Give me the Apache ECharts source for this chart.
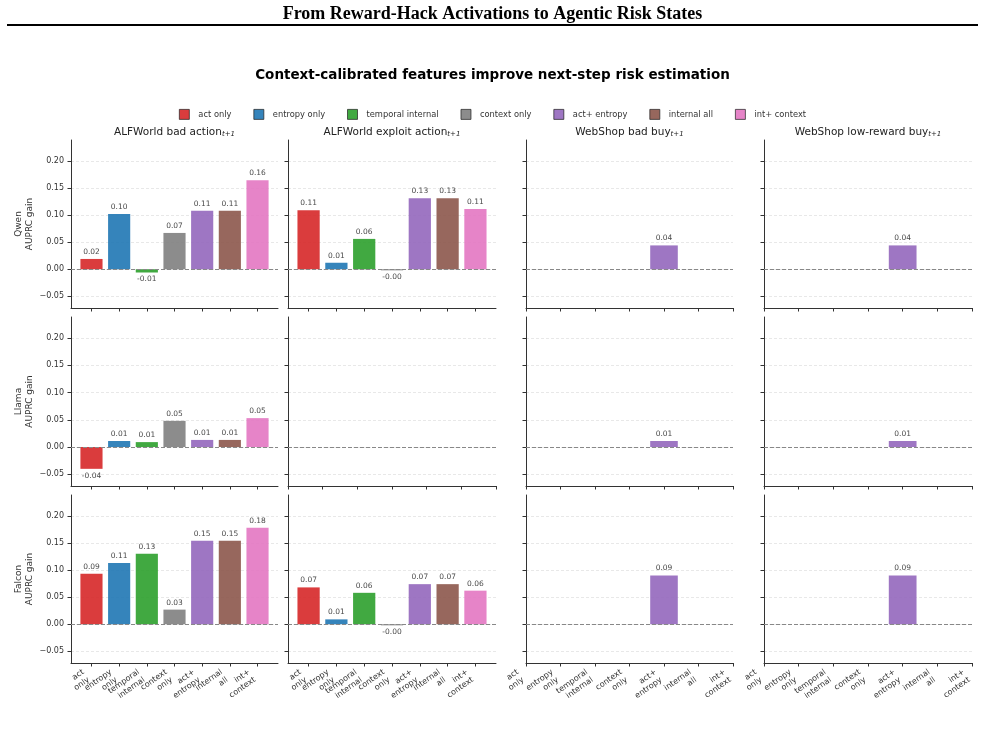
<!DOCTYPE html>
<html><head><meta charset="utf-8">
<script src="https://cdn.jsdelivr.net/npm/echarts@6/dist/echarts.min.js"></script>
<style>html,body{margin:0;padding:0;background:#fff}#c{width:985px;height:730px}</style>
</head><body><div id="c"></div>
<script>
// ---------- data ----------
const categories = ['act only','entropy only','temporal internal','context only','act+ entropy','internal all','int+ context'];
const tickLabels = ['act\nonly','entropy\nonly','temporal\ninternal','context\nonly','act+\nentropy','internal\nall','int+\ncontext'];
const panelTitles = ['ALFWorld bad action','ALFWorld exploit action','WebShop bad buy','WebShop low-reward buy'];
const models = ['Qwen','Llama','Falcon'];
const yTicks = [-0.05, 0, 0.05, 0.10, 0.15, 0.20];
const xTicks = [0, 1, 2, 3, 4, 5, 6];

const qwenBadAction   = [0.019, 0.102, -0.006, 0.067, 0.108, 0.108, 0.164];
const qwenExploit     = [0.109, 0.012, 0.056, -0.002, 0.131, 0.131, 0.111];
const qwenBadBuy      = [null, null, null, null, 0.044, null, null];
const qwenLowReward   = [null, null, null, null, 0.044, null, null];
const llamaBadAction  = [-0.040, 0.011, 0.009, 0.048, 0.013, 0.013, 0.053];
const llamaExploit    = [null, null, null, null, null, null, null];
const llamaBadBuy     = [null, null, null, null, 0.011, null, null];
const llamaLowReward  = [null, null, null, null, 0.011, null, null];
const falconBadAction = [0.093, 0.113, 0.130, 0.027, 0.154, 0.154, 0.178];
const falconExploit   = [0.068, 0.009, 0.058, -0.002, 0.074, 0.074, 0.062];
const falconBadBuy    = [null, null, null, null, 0.090, null, null];
const falconLowReward = [null, null, null, null, 0.090, null, null];

const panelData = [
  [qwenBadAction, qwenExploit, qwenBadBuy, qwenLowReward],
  [llamaBadAction, llamaExploit, llamaBadBuy, llamaLowReward],
  [falconBadAction, falconExploit, falconBadBuy, falconLowReward]
];

// ---------- styles / layout ----------
const colors = ['#d62728','#1f77b4','#2ca02c','#7f7f7f','#9467bd','#8c564b','#e377c2'];
const FONT = 'DejaVu Sans';
const TXT = '#333333';
const colLeft = [71, 288, 526, 764];
const colRight = [278, 496, 733, 972];
const rowTop = [140, 317, 495];
const rowBottom = [308, 486, 663];
const yMin = -0.0715, yMax = 0.2385;

const xLabelStyle = {rotate:35, align:'right', verticalAlign:'bottom', margin:20,
  fontFamily:FONT, fontSize:8, lineHeight:9.5, color:TXT};

const grids = [], xAxes = [], yAxes = [], series = [];
const graphics = [
  {type:'text', x:492.5, y:14, style:{text:'From Reward-Hack Activations to Agentic Risk States', font:'bold 18px "Liberation Serif"', fill:'#000', align:'center', verticalAlign:'middle'}},
  {type:'line', shape:{x1:7, y1:25, x2:978, y2:25}, style:{stroke:'#000', lineWidth:2}},
  {type:'text', x:492.5, y:75, style:{text:'Context-calibrated features improve next-step risk estimation', font:'bold 13.5px "DejaVu Sans"', fill:'#000', align:'center', verticalAlign:'middle'}}
];

for (let c = 0; c < 4; c++) {
  graphics.push({type:'text', x:(colLeft[c]+colRight[c])/2, y:131, style:{
    text:'{m|' + panelTitles[c] + '}{s|t+1}', align:'center', verticalAlign:'middle',
    rich:{
      m:{fontFamily:FONT, fontSize:10.5, lineHeight:13, verticalAlign:'bottom', fill:'#222'},
      s:{fontFamily:FONT, fontSize:7, lineHeight:8, fontStyle:'italic', verticalAlign:'bottom', fill:'#222'}
    }
  }});
}

let k = 0;
const extra = [];
for (let r = 0; r < 3; r++) {
  for (let c = 0; c < 4; c++) {
    const vals = panelData[r][c];
    const full = vals.filter(v => v !== null).length === categories.length;
    const xmin = full ? -0.74 : 0, xmax = full ? 6.74 : 6;
    const w = colRight[c] - colLeft[c];
    const unit = w / (xmax - xmin);
    const bw = 0.8 * unit;
    grids.push({left:colLeft[c], top:rowTop[r], width:w, height:rowBottom[r]-rowTop[r], containLabel:false});
    // bottom-row labels on full panels are drawn by a separate category axis (see below)
    const ownLabels = r === 2 && !full;
    xAxes.push({
      type:'value', gridIndex:k, min:xmin, max:xmax,
      axisLine:{show:true, onZero:false, lineStyle:{color:TXT, width:1}},
      axisTick:{show:true, length:3.5, customValues:xTicks, lineStyle:{color:TXT, width:1}},
      axisLabel:Object.assign({show:ownLabels, customValues:xTicks, formatter:v => tickLabels[Math.round(v)]}, xLabelStyle),
      splitLine:{show:false}
    });
    if (r === 2 && full) {
      extra.push({left:colLeft[c] + (-0.5 - xmin) * unit, width:7 * unit, top:rowTop[r], height:rowBottom[r]-rowTop[r]});
    }
    yAxes.push({
      type:'value', gridIndex:k, min:yMin, max:yMax,
      axisLine:{show:true, onZero:false, lineStyle:{color:TXT, width:1}},
      axisTick:{show:true, length:3.5, customValues:yTicks, lineStyle:{color:TXT, width:1}},
      axisLabel:{show:c===0, customValues:yTicks, formatter:v => (v < 0 ? '\u2212' : '') + Math.abs(v).toFixed(2),
        fontFamily:FONT, fontSize:8, margin:7, color:TXT},
      splitLine:{show:true, lineStyle:{color:'#e2e2e2', type:[3,2], width:0.8}},
      name: c === 0 ? models[r] + '\nAUPRC gain' : '',
      nameLocation:'middle', nameRotate:90, nameGap:36,
      nameTextStyle:{fontFamily:FONT, fontSize:9, lineHeight:11, color:TXT}
    });
    for (let i = 0; i < categories.length; i++) {
      const v = vals[i];
      const s = {
        type:'bar', name:categories[i], xAxisIndex:k, yAxisIndex:k,
        data:[[i, v]], barWidth:bw, barGap:'-100%',
        itemStyle:{color:colors[i], opacity:0.9},
        label:{show:true, position:(v !== null && v < 0) ? 'bottom' : 'top', distance:3,
          formatter:p => p.value[1].toFixed(2), fontFamily:FONT, fontSize:7.5, color:TXT},
        animation:false
      };
      if (i === 0) {
        s.markLine = {silent:true, symbol:'none', animation:false, label:{show:false},
          lineStyle:{color:'#888', type:[4,2], width:1}, data:[{yAxis:0}]};
      }
      series.push(s);
    }
    k++;
  }
}
// label-only category axes for the full bottom panels
extra.forEach(g => {
  grids.push(Object.assign({containLabel:false}, g));
  xAxes.push({
    type:'category', gridIndex:k, data:tickLabels, boundaryGap:true,
    axisLine:{show:false}, axisTick:{show:false}, splitLine:{show:false},
    axisLabel:Object.assign({show:true, interval:0}, xLabelStyle)
  });
  yAxes.push({type:'value', gridIndex:k, show:false});
  k++;
});

const chart = echarts.init(document.getElementById('c'), null, {renderer:'canvas'});
chart.setOption({
  backgroundColor:'#fff',
  animation:false,
  textStyle:{fontFamily:FONT},
  legend:{
    data:categories, top:104, left:'center', selectedMode:false,
    itemWidth:10, itemHeight:10, itemGap:22, icon:'rect',
    itemStyle:{borderColor:'#222', borderWidth:0.8},
    textStyle:{fontFamily:FONT, fontSize:8.3, color:TXT, padding:[0,0,0,4]}
  },
  grid:grids, xAxis:xAxes, yAxis:yAxes, series:series, graphic:graphics
});
</script></body></html>
